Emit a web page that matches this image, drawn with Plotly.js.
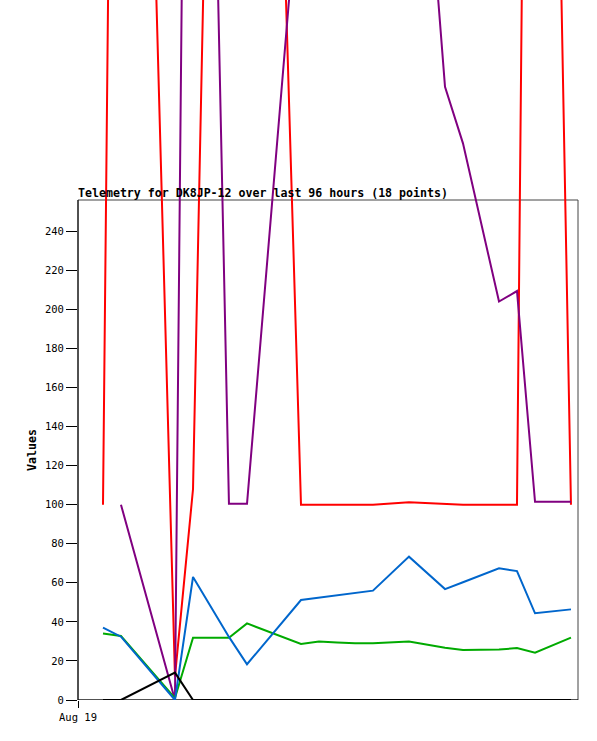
<!DOCTYPE html>
<html>
<head>
<meta charset="utf-8">
<script src="https://cdn.plot.ly/plotly-3.0.1.min.js"></script>
<style>
  html, body { margin: 0; padding: 0; background: #fff; }
  #chart { width: 597px; height: 741px; }
</style>
</head>
<body>
<div id="chart"></div>
<script>
// Sample times (18 points over the last 96 hours)
const times = [
  '2024-08-19 04:48', '2024-08-19 08:15', '2024-08-19 18:37', '2024-08-19 22:05',
  '2024-08-20 04:59', '2024-08-20 08:27', '2024-08-20 18:49', '2024-08-20 22:16',
  '2024-08-21 01:44', '2024-08-21 05:11', '2024-08-21 08:38', '2024-08-21 15:33',
  '2024-08-21 22:28', '2024-08-22 01:55', '2024-08-22 08:50', '2024-08-22 12:17',
  '2024-08-22 15:45', '2024-08-22 22:39'
];

// Telemetry channels
const ch1Values = [100, 1020, 12, 108, 1000, 1030, 100, 100, 100, 100, 100, 101.2, 100.3, 100, 100, 100, 1080, 100];       // red
const ch2Values = [null, 100, 0, 963, 100.5, 100.5, 432, 440, 445, 450, 470, 550, 314, 285, 204, 209.4, 101.5, 101.5];   // purple
const ch3Values = [37, 32.4, 0, 63, 32.3, 18.3, 51.2, 52.4, 53.6, 54.8, 56, 73.4, 56.8, 60.3, 67.4, 66, 44.4, 46.4];      // blue
const ch4Values = [34.1, 32.8, 1, 31.9, 31.9, 39.2, 28.7, 30, 29.5, 29, 29, 30, 26.8, 25.6, 25.8, 26.6, 24.2, 31.9];       // green
const ch5Values = [0, 0, 14, 0, 0, 0, 0, 0, 0, 0, 0, 0, 0, 0, 0, 0, 0, 0];                                                // black

const yTicks = [0, 20, 40, 60, 80, 100, 120, 140, 160, 180, 200, 220, 240];
const xTickVals = ['2024-08-19 00:00'];
const xTickText = ['Aug 19'];

const series = [
  { y: ch1Values, color: '#ff0000' },
  { y: ch2Values, color: '#800080' },
  { y: ch4Values, color: '#00aa00' },
  { y: ch3Values, color: '#0066cc' },
  { y: ch5Values, color: '#000000' }
];

const traces = series.map(s => ({
  type: 'scatter',
  mode: 'lines',
  x: times,
  y: s.y,
  line: { color: s.color, width: 2 },
  connectgaps: false,
  hoverinfo: 'skip',
  showlegend: false
}));

const frameTop = 256;
const mono = '"DejaVu Sans Mono", "Liberation Mono", monospace';

const layout = {
  width: 597,
  height: 741,
  margin: { l: 78, r: 19, t: 0, b: 41 },
  paper_bgcolor: '#ffffff',
  plot_bgcolor: 'rgba(0,0,0,0)',
  showlegend: false,
  title: {
    text: '<b>Telemetry for DK8JP-12 over last 96 hours (18 points)</b>',
    font: { family: mono, size: 11.6, color: '#000' },
    xref: 'paper', x: 0, xanchor: 'left',
    yref: 'paper', y: (700 - 193) / 700, yanchor: 'middle'
  },
  xaxis: {
    type: 'date',
    range: ['2024-08-19 00:00', '2024-08-23 00:00'],
    tickvals: xTickVals,
    ticktext: xTickText,
    ticks: 'outside',
    ticklen: 7,
    tickwidth: 1,
    tickcolor: '#000',
    showgrid: false,
    zeroline: false,
    showline: false,
    tickfont: { family: mono, size: 10.5, color: '#000' },
    fixedrange: true
  },
  yaxis: {
    range: [0, frameTop * 700 / 500],
    tickvals: yTicks,
    ticks: 'outside',
    ticklen: 11,
    tickwidth: 1,
    tickcolor: '#000',
    showgrid: false,
    zeroline: false,
    showline: false,
    tickfont: { family: mono, size: 10.5, color: '#000' },
    fixedrange: true
  },
  shapes: [
    { type: 'rect', xref: 'paper', yref: 'y', x0: 0, x1: 1, y0: 0, y1: frameTop,
      line: { color: '#444444', width: 1 }, fillcolor: 'rgba(0,0,0,0)', layer: 'below' },
    { type: 'line', xref: 'paper', yref: 'y', x0: 0, x1: 0, y0: 0, y1: frameTop,
      line: { color: '#000000', width: 1 }, layer: 'below' },
    { type: 'line', xref: 'paper', yref: 'y', x0: 0, x1: 1, y0: 0, y1: 0,
      line: { color: '#000000', width: 1 }, layer: 'below' }
  ],
  annotations: [
    { text: '<b>Values</b>', xref: 'paper', x: -46 / 500, xanchor: 'center',
      yref: 'y', y: frameTop / 2, yanchor: 'middle', textangle: -90, showarrow: false,
      font: { family: mono, size: 11.6, color: '#000' } }
  ]
};

Plotly.newPlot('chart', traces, layout, { staticPlot: true, displayModeBar: false });
</script>
</body>
</html>
